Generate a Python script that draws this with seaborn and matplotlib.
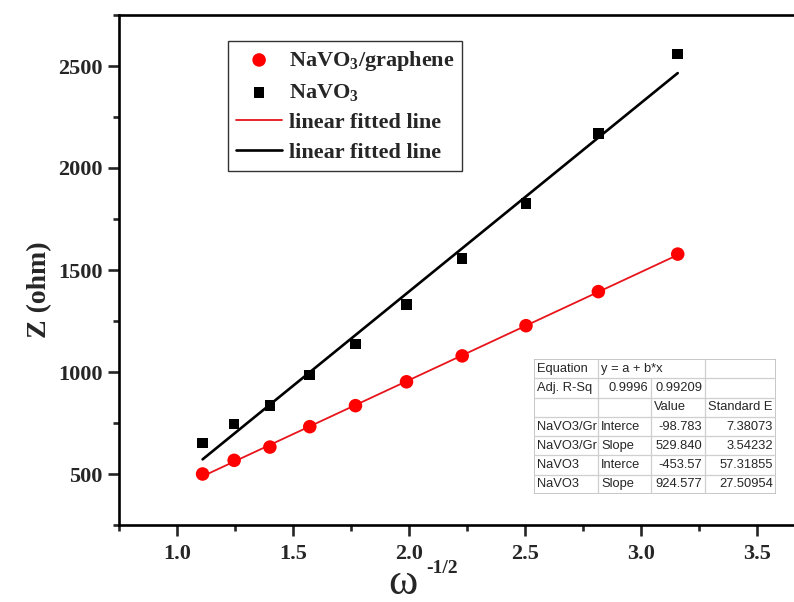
import numpy as np
import pandas as pd
import matplotlib
matplotlib.use("Agg")
import matplotlib.pyplot as plt
import seaborn as sns

# ---------------- data ----------------
omega_inv_sqrt = [1.109, 1.245, 1.399, 1.571, 1.768, 1.988, 2.228, 2.503, 2.815, 3.157]
z_navo3_graphene = [500, 567, 632, 732, 835, 952, 1079, 1227, 1394, 1578]
z_navo3 = [651, 746, 836, 986, 1138, 1330, 1557, 1827, 2168, 2559]

fit_gr_intercept, fit_gr_slope = -98.783, 529.840
fit_na_intercept, fit_na_slope = -453.57, 924.577

legend_labels = ["NaVO$_3$/graphene", "NaVO$_3$", "linear fitted line", "linear fitted line"]

x_ticks = [1.0, 1.5, 2.0, 2.5, 3.0, 3.5]
y_ticks = [500, 1000, 1500, 2000, 2500]

table_rows = [
    ["Equation", "y = a + b*x", "", ""],
    ["Adj. R-Sq", "0.9996", "0.99209", ""],
    ["", "", "Value", "Standard E"],
    ["NaVO3/Gr", "Interce", "-98.783", "7.38073"],
    ["NaVO3/Gr", "Slope", "529.840", "3.54232"],
    ["NaVO3", "Interce", "-453.57", "57.31855"],
    ["NaVO3", "Slope", "924.577", "27.50954"],
]

# ---------------- style ----------------
sns.set_theme(style="ticks")
plt.rcParams["font.family"] = ["Liberation Serif", "DejaVu Serif"]
plt.rcParams["font.weight"] = "bold"
plt.rcParams["mathtext.fontset"] = "custom"
plt.rcParams["mathtext.rm"] = "Liberation Serif:bold"
plt.rcParams["mathtext.it"] = "Liberation Serif:bold"
plt.rcParams["mathtext.bf"] = "Liberation Serif:bold"

W, H = 794, 602
fig = plt.figure(figsize=(W / 100, H / 100), dpi=100)

def fx(px):
    return px / W

def fy(py):
    return 1 - py / H

ax = fig.add_axes([fx(119.3), fy(525), fx(794) - fx(119.3), fy(15) - fy(525)])

df = pd.DataFrame({"x": omega_inv_sqrt, "gr": z_navo3_graphene, "na": z_navo3})

# fitted lines
xl = np.array([omega_inv_sqrt[0], omega_inv_sqrt[-1]])
sns.lineplot(x=xl, y=fit_gr_intercept + fit_gr_slope * xl, ax=ax, color="#e8141b",
             linewidth=1.3, label=legend_labels[2], legend=False)
sns.lineplot(x=xl, y=fit_na_intercept + fit_na_slope * xl, ax=ax, color="black",
             linewidth=1.9, label=legend_labels[3], legend=False)

sns.scatterplot(data=df, x="x", y="gr", ax=ax, marker="o", s=95, color="#ff0000",
                edgecolor="none", linewidth=0, label=legend_labels[0], legend=False, zorder=3)
sns.scatterplot(data=df, x="x", y="na", ax=ax, marker="s", s=58, color="black",
                edgecolor="none", linewidth=0, label=legend_labels[1], legend=False, zorder=3)

ax.set_xlim(0.75, 0.75 + (794 - 119.3) / 232.0)
ax.set_ylim(250, 2750)
ax.set_xticks(x_ticks)
ax.set_xticklabels([f"{v:.1f}" for v in x_ticks])
ax.set_yticks(y_ticks)
ax.set_yticklabels([str(v) for v in y_ticks])
ax.set_xticks(np.arange(0.75, 3.7, 0.25), minor=True)
ax.set_yticks(np.arange(250, 2751, 250), minor=True)
ax.set_xlabel("")
ax.set_ylabel("")

for s in ["left", "bottom", "top"]:
    ax.spines[s].set_linewidth(1.9)
    ax.spines[s].set_color("black")
ax.spines["right"].set_visible(False)

ax.tick_params(which="major", direction="out", length=8, width=1.9, labelsize=16, pad=4,
               top=False, right=False)
ax.tick_params(which="minor", direction="out", length=4.5, width=1.9, top=False, right=False)
ax.tick_params(axis="x", which="major", pad=6)
for lab in ax.get_xticklabels() + ax.get_yticklabels():
    lab.set_fontweight("bold")

# axis labels
fig.text(fx(40), fy(290), "Z (ohm)", rotation=90, ha="center", va="center",
         fontsize=20, fontweight="bold")
fig.text(fx(403), fy(594), "ω", ha="center", va="baseline", fontsize=32, fontweight="normal")
fig.text(fx(426), fy(573), "-1/2", ha="left", va="baseline", fontsize=14, fontweight="bold")

# legend
handles, labels = ax.get_legend_handles_labels()
hs = [handles[2], handles[3], handles[0], handles[1]]
ls = [legend_labels[0], legend_labels[1], legend_labels[2], legend_labels[3]]
leg = ax.legend(hs, ls, loc="upper left", bbox_to_anchor=(fx(228), fy(41)),
                bbox_transform=fig.transFigure, borderaxespad=0, fancybox=False,
                frameon=True, edgecolor="#333333", framealpha=1,
                prop={"family": "Liberation Serif", "weight": "bold", "size": 16},
                handlelength=2.1, handletextpad=0.3, borderpad=0.35, labelspacing=0.42,
                markerscale=1.0)
leg.get_frame().set_linewidth(1.0)

# inset table
tx0, tx1, ty0, ty1 = 534, 776, 359, 494
tab = fig.add_axes([fx(tx0), fy(ty1), fx(tx1) - fx(tx0), fy(ty0) - fy(ty1)])
tab.set_xlim(0, tx1 - tx0)
tab.set_ylim(ty1 - ty0, 0)
tab.axis("off")
tab.add_patch(plt.Rectangle((0, 0), tx1 - tx0, ty1 - ty0, facecolor="white",
                            edgecolor="#bdbdbd", linewidth=1.2, zorder=0))
col_edges = [0, 598 - tx0, 651 - tx0, 705 - tx0, tx1 - tx0]
nrows = len(table_rows)
rh = (ty1 - ty0) / nrows
gc = "#cfcfcf"
for r in range(1, nrows):
    tab.plot([0, tx1 - tx0], [r * rh, r * rh], color=gc, lw=0.9)
for ci, cx in enumerate(col_edges[1:-1], start=1):
    start = 0 if ci != 2 else rh
    tab.plot([cx, cx], [start, ty1 - ty0], color=gc, lw=0.9)

left_cells = {(0, 0), (0, 1), (1, 0), (2, 2), (2, 3)}
for r, row in enumerate(table_rows):
    for c, txt in enumerate(row):
        if not txt:
            continue
        yc = (r + 0.5) * rh
        is_left = (r, c) in left_cells or c == 0 or (c == 1 and r >= 3)
        if is_left:
            tab.text(col_edges[c] + 3, yc, txt, ha="left", va="center", fontsize=9.3,
                     family="Liberation Sans", fontweight="normal", clip_on=True)
        else:
            tab.text(col_edges[c + 1] - 3, yc, txt, ha="right", va="center", fontsize=9.3,
                     family="Liberation Sans", fontweight="normal")

fig.savefig("out.png", dpi=100)
